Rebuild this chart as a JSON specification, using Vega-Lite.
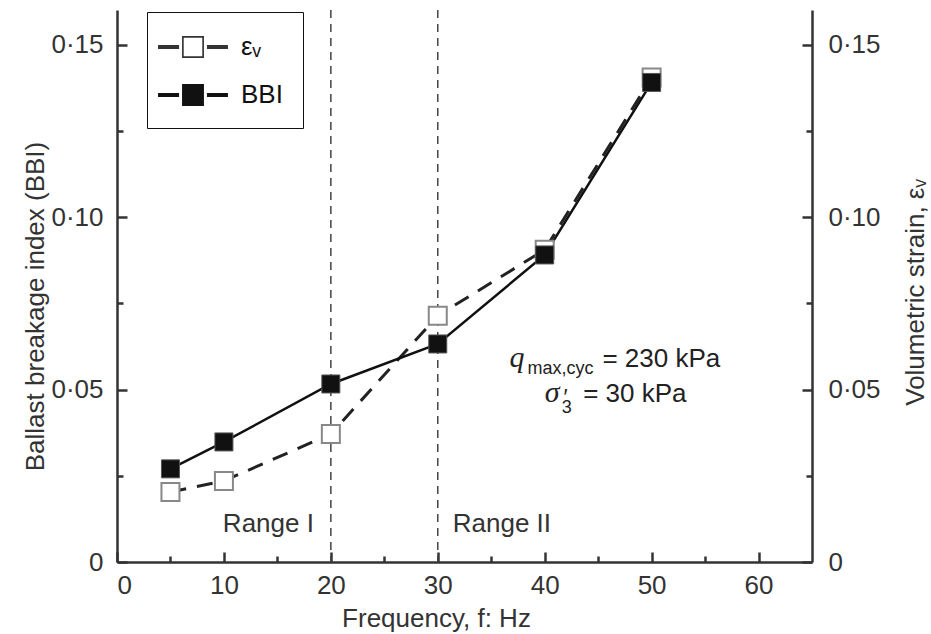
{
  "$schema": "https://vega.github.io/schema/vega-lite/v6.json",
  "width": 695,
  "height": 552,
  "autosize": {"type": "none"},
  "padding": {"left": 117, "top": 10, "right": 119, "bottom": 72},
  "background": "white",
  "config": {
    "view": {"stroke": null},
    "font": "Liberation Sans",
    "axis": {
      "labelFont": "Liberation Sans",
      "labelFontSize": 26,
      "labelColor": "#333",
      "titleFont": "Liberation Sans",
      "titleFontSize": 26,
      "titleFontWeight": "normal",
      "titleColor": "#333",
      "domainColor": "#333",
      "domainWidth": 2.5,
      "tickColor": "#333",
      "tickWidth": 2.5,
      "grid": false
    }
  },
  "data": {
    "values": [
      {"f": 5, "series": "εᵥ", "value": 0.0203},
      {"f": 10, "series": "εᵥ", "value": 0.0235},
      {"f": 20, "series": "εᵥ", "value": 0.0371},
      {"f": 30, "series": "εᵥ", "value": 0.0714},
      {"f": 40, "series": "εᵥ", "value": 0.0905},
      {"f": 50, "series": "εᵥ", "value": 0.1404},
      {"f": 5, "series": "BBI", "value": 0.027},
      {"f": 10, "series": "BBI", "value": 0.0348},
      {"f": 20, "series": "BBI", "value": 0.0516},
      {"f": 30, "series": "BBI", "value": 0.0632},
      {"f": 40, "series": "BBI", "value": 0.089},
      {"f": 50, "series": "BBI", "value": 0.139}
    ]
  },
  "layer": [
    {
      "data": {"values": [{"f": 20}, {"f": 30}]},
      "mark": {"type": "rule", "color": "#444", "strokeWidth": 1.5, "strokeDash": [8, 6]},
      "encoding": {
        "x": {
          "field": "f",
          "type": "quantitative",
          "scale": {"domain": [0, 65], "nice": false, "zero": false},
          "axis": {
            "title": "Frequency, f: Hz",
            "values": [0, 5, 10, 15, 20, 25, 30, 35, 40, 45, 50, 55, 60],
            "labelExpr": "datum.value % 10 ? '' : datum.label",
            "tickSize": {"condition": {"test": "datum.value % 10 !== 0", "value": -6}, "value": -10},
            "labelPadding": 20,
            "titleX": 319,
            "titleAlign": "center",
            "titleY": 64,
            "titleBaseline": "alphabetic"
          }
        }
      }
    },
    {
      "transform": [{"filter": "datum.series === 'εᵥ'"}],
      "mark": {"type": "line", "color": "#222", "strokeWidth": 3, "strokeDash": [16, 11]},
      "encoding": {
        "x": {"field": "f", "type": "quantitative"},
        "y": {
          "field": "value",
          "type": "quantitative",
          "scale": {"domain": [0, 0.16], "nice": false},
          "axis": {
            "orient": "right",
            "title": "Volumetric strain, εᵥ",
            "titleAngle": 270,
            "titleX": 103,
            "titleY": 282,
            "titleAlign": "center",
            "titleBaseline": "middle",
            "values": [0, 0.025, 0.05, 0.075, 0.1, 0.125, 0.15],
            "labelExpr": "datum.value == 0 ? '0' : (round(datum.value * 40) % 2 ? '' : replace(format(datum.value, '.2f'), '.', '·'))",
            "tickSize": {"condition": {"test": "round(datum.value * 40) % 2 === 1", "value": -6}, "value": -10},
            "labelPadding": 26
          }
        }
      }
    },
    {
      "transform": [{"filter": "datum.series === 'BBI'"}],
      "mark": {"type": "line", "color": "#111", "strokeWidth": 2.5},
      "encoding": {
        "x": {"field": "f", "type": "quantitative"},
        "y": {
          "field": "value",
          "type": "quantitative",
          "scale": {"domain": [0, 0.16], "nice": false},
          "axis": {
            "orient": "left",
            "title": "Ballast breakage index (BBI)",
            "titleAngle": 270,
            "titleX": -82,
            "titleY": 296,
            "titleAlign": "center",
            "titleBaseline": "middle",
            "values": [0, 0.025, 0.05, 0.075, 0.1, 0.125, 0.15],
            "labelExpr": "datum.value == 0 ? '0' : (round(datum.value * 40) % 2 ? '' : replace(format(datum.value, '.2f'), '.', '·'))",
            "tickSize": {"condition": {"test": "round(datum.value * 40) % 2 === 1", "value": -6}, "value": -10},
            "labelPadding": 24
          }
        }
      }
    },
    {
      "transform": [{"filter": "datum.series === 'εᵥ'"}],
      "mark": {"type": "point", "shape": "square", "size": 324, "filled": true, "fill": "white", "stroke": "#888", "strokeWidth": 2, "opacity": 1},
      "encoding": {
        "x": {"field": "f", "type": "quantitative"},
        "y": {"field": "value", "type": "quantitative", "axis": null}
      }
    },
    {
      "transform": [{"filter": "datum.series === 'BBI'"}],
      "mark": {"type": "point", "shape": "square", "size": 324, "filled": true, "fill": "#111", "stroke": "#555", "strokeWidth": 1, "opacity": 1},
      "encoding": {
        "x": {"field": "f", "type": "quantitative"},
        "y": {"field": "value", "type": "quantitative", "axis": null}
      }
    },
    {
      "transform": [{"filter": "datum.f < 0"}],
      "mark": {"type": "point", "filled": true, "opacity": 1},
      "encoding": {
        "x": {"field": "f", "type": "quantitative"},
        "y": {"field": "value", "type": "quantitative", "axis": null},
        "fill": {
          "field": "series",
          "type": "nominal",
          "scale": {"domain": ["εᵥ", "BBI"], "range": ["#333", "#111"]},
          "legend": {
            "orient": "none",
            "legendX": 30,
            "legendY": 2,
            "title": null,
            "padding": 20,
            "strokeColor": "#111",
            "fillColor": "white",
            "symbolSize": 900,
            "symbolOpacity": 1,
            "symbolStrokeWidth": 0,
            "symbolOffset": 11,
            "labelOffset": 33,
            "rowPadding": 20,
            "labelFont": "Liberation Sans",
            "labelFontSize": 26,
            "labelColor": "#111"
          }
        },
        "shape": {
          "field": "series",
          "type": "nominal",
          "scale": {
            "domain": ["εᵥ", "BBI"],
            "range": [
              "M-2.33,-0.13H-0.93V0.13H-2.33Z M-0.73,-0.73H0.73V0.73H-0.73Z M-0.62,-0.62V0.62H0.62V-0.62Z M0.93,-0.13H2.33V0.13H0.93Z",
              "M-2.33,-0.13H-0.93V0.13H-2.33Z M-0.73,-0.73H0.73V0.73H-0.73Z M0.93,-0.13H2.33V0.13H0.93Z"
            ]
          }
        }
      }
    },
    {
      "data": {"values": [{"label": "Range I"}]},
      "mark": {"type": "text", "align": "left", "baseline": "alphabetic", "fontSize": 26, "color": "#333"},
      "encoding": {"text": {"field": "label"}, "x": {"datum": 9.9}, "y": {"datum": 0.0087, "axis": null}}
    },
    {
      "data": {"values": [{"label": "Range II"}]},
      "mark": {"type": "text", "align": "left", "baseline": "alphabetic", "fontSize": 26, "color": "#333"},
      "encoding": {"text": {"field": "label"}, "x": {"datum": 31.4}, "y": {"datum": 0.0087, "axis": null}}
    },
    {
      "data": {"values": [{"label": "q"}]},
      "mark": {"type": "text", "align": "left", "baseline": "alphabetic", "font": "Liberation Serif", "fontStyle": "italic", "fontSize": 30, "color": "#222"},
      "encoding": {"text": {"field": "label"}, "x": {"datum": 36.7}, "y": {"datum": 0.0565, "axis": null}}
    },
    {
      "data": {"values": [{"label": "max,cyc"}]},
      "mark": {"type": "text", "align": "left", "baseline": "alphabetic", "fontSize": 18, "color": "#222"},
      "encoding": {"text": {"field": "label"}, "x": {"datum": 38.4}, "y": {"datum": 0.0545, "axis": null}}
    },
    {
      "data": {"values": [{"label": "= 230 kPa"}]},
      "mark": {"type": "text", "align": "left", "baseline": "alphabetic", "fontSize": 26, "color": "#222"},
      "encoding": {"text": {"field": "label"}, "x": {"datum": 45.4}, "y": {"datum": 0.0565, "axis": null}}
    },
    {
      "data": {"values": [{"label": "σ"}]},
      "mark": {"type": "text", "align": "left", "baseline": "alphabetic", "font": "Liberation Serif", "fontStyle": "italic", "fontSize": 30, "color": "#222"},
      "encoding": {"text": {"field": "label"}, "x": {"datum": 40.0}, "y": {"datum": 0.0464, "axis": null}}
    },
    {
      "data": {"values": [{"label": "′"}]},
      "mark": {"type": "text", "align": "left", "baseline": "alphabetic", "fontSize": 22, "color": "#222"},
      "encoding": {"text": {"field": "label"}, "x": {"datum": 41.75}, "y": {"datum": 0.0458, "axis": null}}
    },
    {
      "data": {"values": [{"label": "3"}]},
      "mark": {"type": "text", "align": "left", "baseline": "alphabetic", "fontSize": 18, "color": "#222"},
      "encoding": {"text": {"field": "label"}, "x": {"datum": 41.6}, "y": {"datum": 0.0432, "axis": null}}
    },
    {
      "data": {"values": [{"label": "= 30 kPa"}]},
      "mark": {"type": "text", "align": "left", "baseline": "alphabetic", "fontSize": 26, "color": "#222"},
      "encoding": {"text": {"field": "label"}, "x": {"datum": 43.6}, "y": {"datum": 0.0464, "axis": null}}
    }
  ],
  "resolve": {"axis": {"y": "independent"}}
}
